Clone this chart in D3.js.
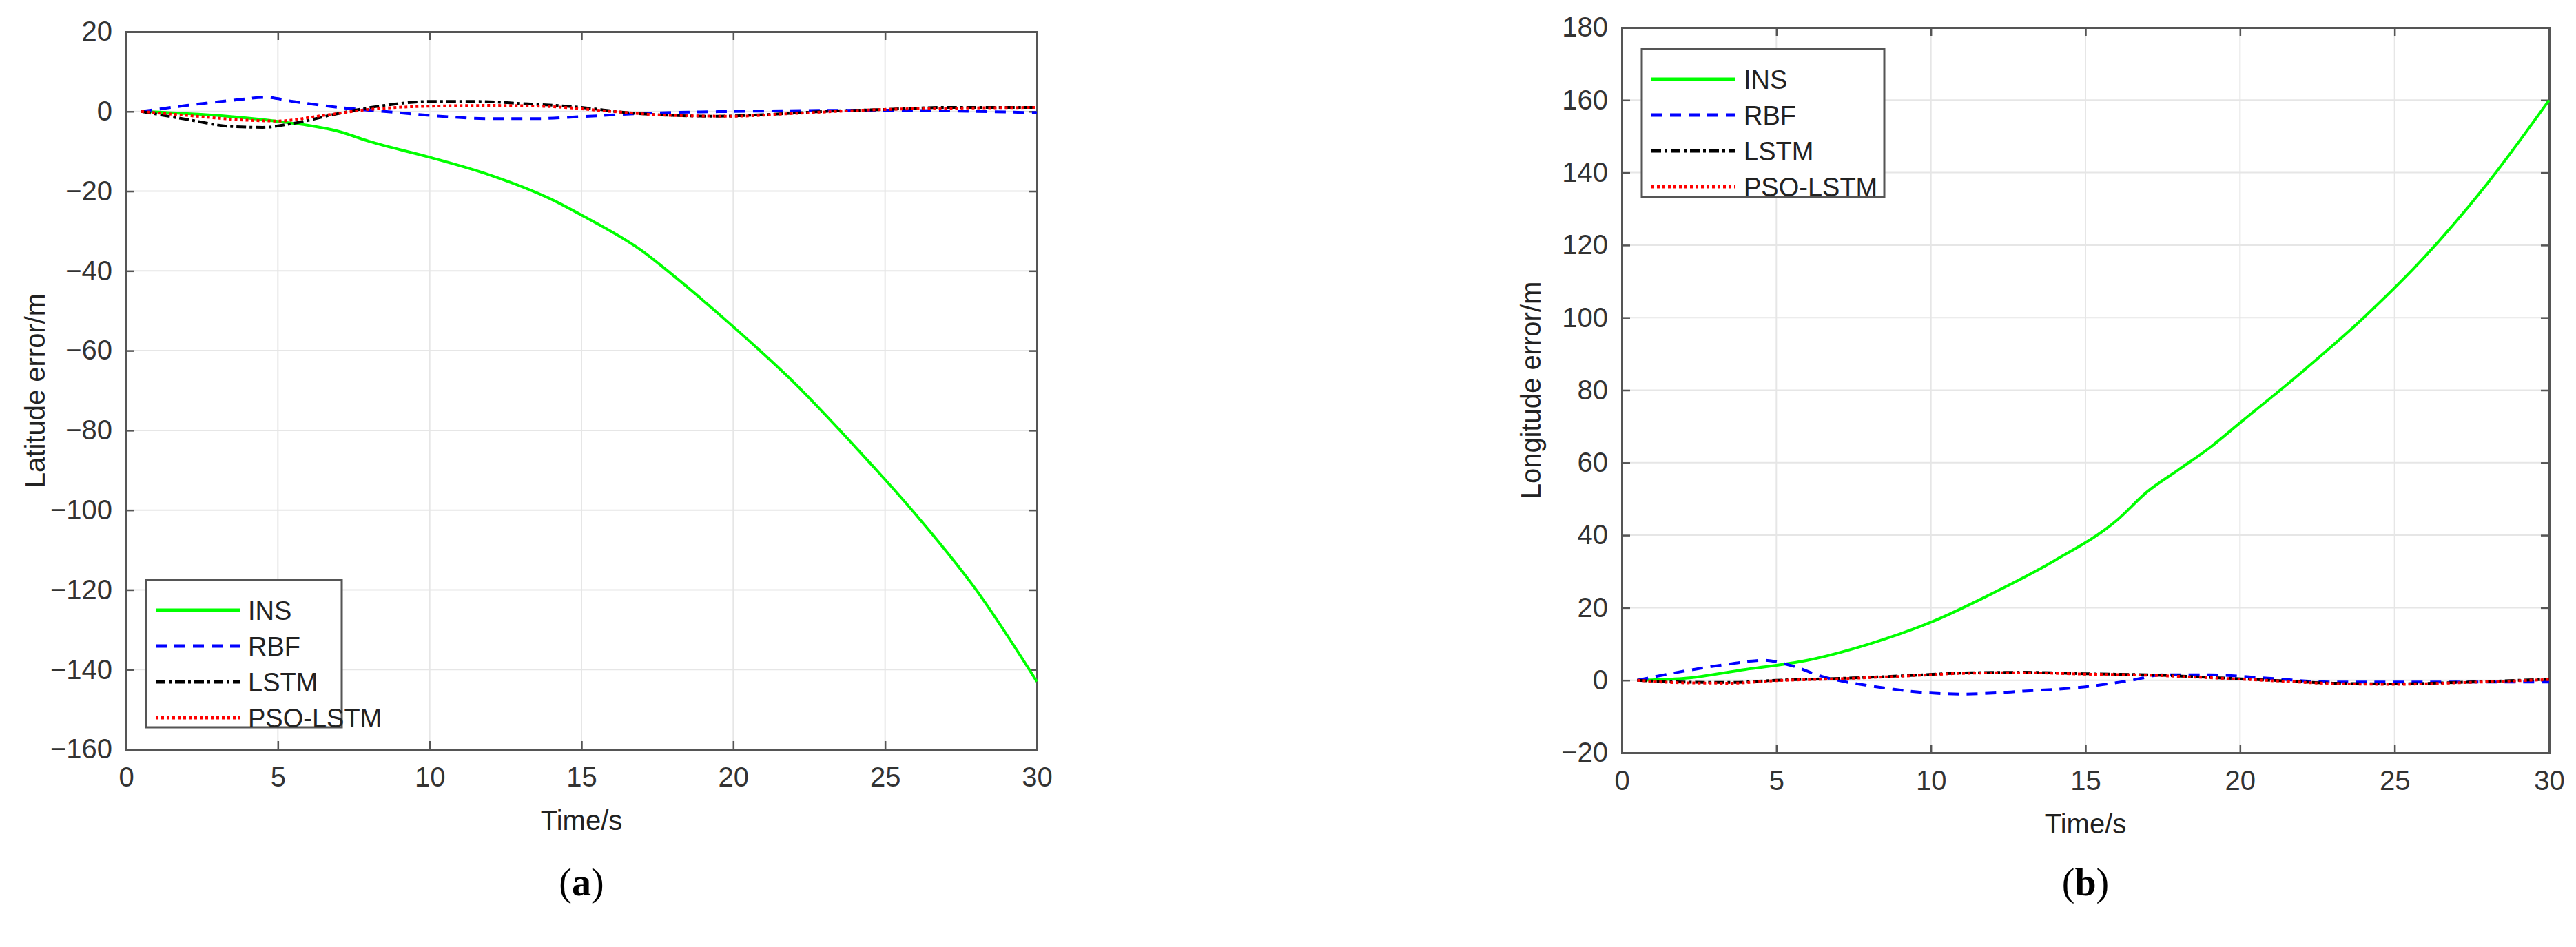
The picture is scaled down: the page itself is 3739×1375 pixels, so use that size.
<!DOCTYPE html>
<html><head><meta charset="utf-8">
<script src="https://cdn.jsdelivr.net/npm/d3@7"></script>
<style>body{margin:0;background:#fff}svg{display:block}</style>
</head><body>
<svg id="c" width="3739" height="1375"></svg>
<script>
const seriesNames = ["INS","RBF","LSTM","PSO-LSTM"];
const xTicks = [0,5,10,15,20,25,30];
const latTicks = [20,0,-20,-40,-60,-80,-100,-120,-140,-160];
const lonTicks = [180,160,140,120,100,80,60,40,20,0,-20];

const latINS = [[0.5,0],[3,-1],[5,-2.5],[6,-3.5],[7,-5],[8,-7.5],[10,-11.5],[12,-16],[14,-22],[15,-26],[17,-35],[18,-41],[20,-54],[22,-68],[24,-84],[26,-101],[28,-120],[30,-143]];
const latRBF = [[0.5,0],[2,1.5],[3.5,2.8],[4.6,3.5],[5.5,2.5],[7,1],[8.5,0],[10,-1],[12,-1.8],[13.5,-1.8],[15,-1.3],[17,-0.5],[20,0],[25,0.3],[28,0],[30,-0.3]];
const latLSTM = [[0.5,0],[2,-2],[3.5,-3.8],[4.5,-4],[5.5,-3],[7,-0.5],[8.5,1.5],[10,2.5],[11.5,2.5],[13,2],[15,1],[16.5,-0.3],[18,-1],[19.5,-1.2],[21,-0.8],[23,0],[25,0.5],[27,1],[30,1]];
const latPSO = [[0.5,0],[2,-1],[4,-2.2],[5,-2.4],[6.5,-1],[8,0.5],[10,1.3],[12,1.5],[14,1.2],[16,0],[18,-1],[20,-1.2],[22,-0.5],[25,0.5],[30,1]];

const lonINS = [[0.5,0],[2,0.5],[4,3],[6,5.5],[8,10],[10,16],[12,24],[14,33],[16,44],[17,52],[18,58],[19,64],[20,71],[22,85],[24,100],[26,117],[28,137],[30,160]];
const lonRBF = [[0.5,0],[2,2.5],[3.5,4.5],[4.6,5.5],[5.5,4],[6.5,1],[8,-1.5],[10,-3.5],[11,-3.8],[13,-3],[15,-1.8],[16.5,0],[17.5,1.5],[19,1.5],[21,0.5],[23,-0.5],[26,-0.5],[30,-0.5]];
const lonLSTM = [[0.5,0],[2,-0.5],[3.5,-0.6],[5,0],[7,0.5],[9,1.2],[11,2],[13,2.2],[15,1.8],[17,1.5],[19,0.8],[21,0],[23,-0.8],[25,-1],[27,-0.6],[30,0.3]];
const lonPSO = [[0.5,0],[2,-0.7],[3.5,-0.8],[5,-0.1],[7,0.4],[9,1.1],[11,1.9],[13,2.1],[15,1.7],[17,1.4],[19,0.7],[21,-0.1],[23,-0.9],[25,-1.1],[27,-0.7],[30,0.2]];

const styles = [
  {color:"#00ff00", dash:null, w:4},
  {color:"#0000ff", dash:"16,11", w:4},
  {color:"#000000", dash:"14,5,4,5", w:4},
  {color:"#ff0000", dash:"4,4", w:4}
];

const svg = d3.select("#c");
const FONT = "Liberation Sans, Arial, sans-serif";

function panel(o){
  const x = d3.scaleLinear().domain([0,30]).range([o.x0,o.x1]);
  const y = d3.scaleLinear().domain(o.ydom).range([o.y1,o.y0]);
  const g = svg.append("g");
  // grid
  g.selectAll(".gx").data(xTicks).join("line").attr("x1",d=>x(d)).attr("x2",d=>x(d)).attr("y1",o.y0).attr("y2",o.y1).attr("stroke","#e6e6e6").attr("stroke-width",2);
  g.selectAll(".gy").data(o.yticks).join("line").attr("x1",o.x0).attr("x2",o.x1).attr("y1",d=>y(d)).attr("y2",d=>y(d)).attr("stroke","#e6e6e6").attr("stroke-width",2);
  // axes
  const ax = g.append("g").attr("transform",`translate(0,${o.y1})`).call(d3.axisBottom(x).tickValues(xTicks).tickSize(-12).tickPadding(26));
  const ay = g.append("g").attr("transform",`translate(${o.x0},0)`).call(d3.axisLeft(y).tickValues(o.yticks).tickSize(-12).tickPadding(20));
  g.append("g").attr("transform",`translate(0,${o.y0})`).call(d3.axisTop(x).tickValues(xTicks).tickSize(-12).tickFormat(""));
  g.append("g").attr("transform",`translate(${o.x1},0)`).call(d3.axisRight(y).tickValues(o.yticks).tickSize(-12).tickFormat(""));
  g.selectAll(".domain").attr("stroke","#555").attr("stroke-width",3);
  g.selectAll(".tick line").attr("stroke","#555").attr("stroke-width",2.5);
  g.selectAll(".tick text").attr("fill","#333").attr("font-size",40).attr("font-family",FONT);
  // lines
  const line = d3.line().x(d=>x(d[0])).y(d=>y(d[1])).curve(d3.curveMonotoneX);
  o.data.forEach((d,i)=>{
    g.append("path").attr("d",line(d)).attr("fill","none").attr("stroke",styles[i].color)
     .attr("stroke-width",styles[i].w).attr("stroke-dasharray",styles[i].dash);
  });
  // labels
  g.append("text").attr("x",(o.x0+o.x1)/2).attr("y",o.y1+117).attr("text-anchor","middle").attr("font-size",40).attr("font-family",FONT).attr("fill","#222").text("Time/s");
  g.append("text").attr("transform",`translate(${o.x0-118},${(o.y0+o.y1)/2}) rotate(-90)`).attr("text-anchor","middle").attr("font-size",40).attr("font-family",FONT).attr("fill","#222").text(o.ylabel);
  // legend
  const L = o.leg;
  g.append("rect").attr("x",L.x).attr("y",L.y).attr("width",L.w).attr("height",L.h).attr("fill","#fff").attr("stroke","#555").attr("stroke-width",3);
  seriesNames.forEach((n,i)=>{
    const ly = L.y + 44 + i*52;
    g.append("line").attr("x1",L.x+14).attr("x2",L.x+136).attr("y1",ly).attr("y2",ly).attr("stroke",styles[i].color).attr("stroke-width",styles[i].w+1).attr("stroke-dasharray",styles[i].dash);
    g.append("text").attr("x",L.x+148).attr("y",ly+14).attr("font-size",38).attr("font-family",FONT).attr("fill","#222").text(n);
  });
  // caption
  const c = g.append("text").attr("x",(o.x0+o.x1)/2).attr("y",1300).attr("text-anchor","middle").attr("font-size",56).attr("font-family","Liberation Serif, Times New Roman, serif").attr("fill","#000");
  c.append("tspan").text("(");
  c.append("tspan").attr("font-weight","bold").text(o.cap);
  c.append("tspan").text(")");
}

panel({x0:183,x1:1505,y0:46,y1:1088,ydom:[-160,20],yticks:latTicks,ylabel:"Latitude error/m",
  data:[latINS,latRBF,latLSTM,latPSO],leg:{x:212,y:842,w:284,h:214},cap:"a"});
panel({x0:2354,x1:3700,y0:40,y1:1093,ydom:[-20,180],yticks:lonTicks,ylabel:"Longitude error/m",
  data:[lonINS,lonRBF,lonLSTM,lonPSO],leg:{x:2383,y:71,w:352,h:215},cap:"b"});
</script>
</body></html>
